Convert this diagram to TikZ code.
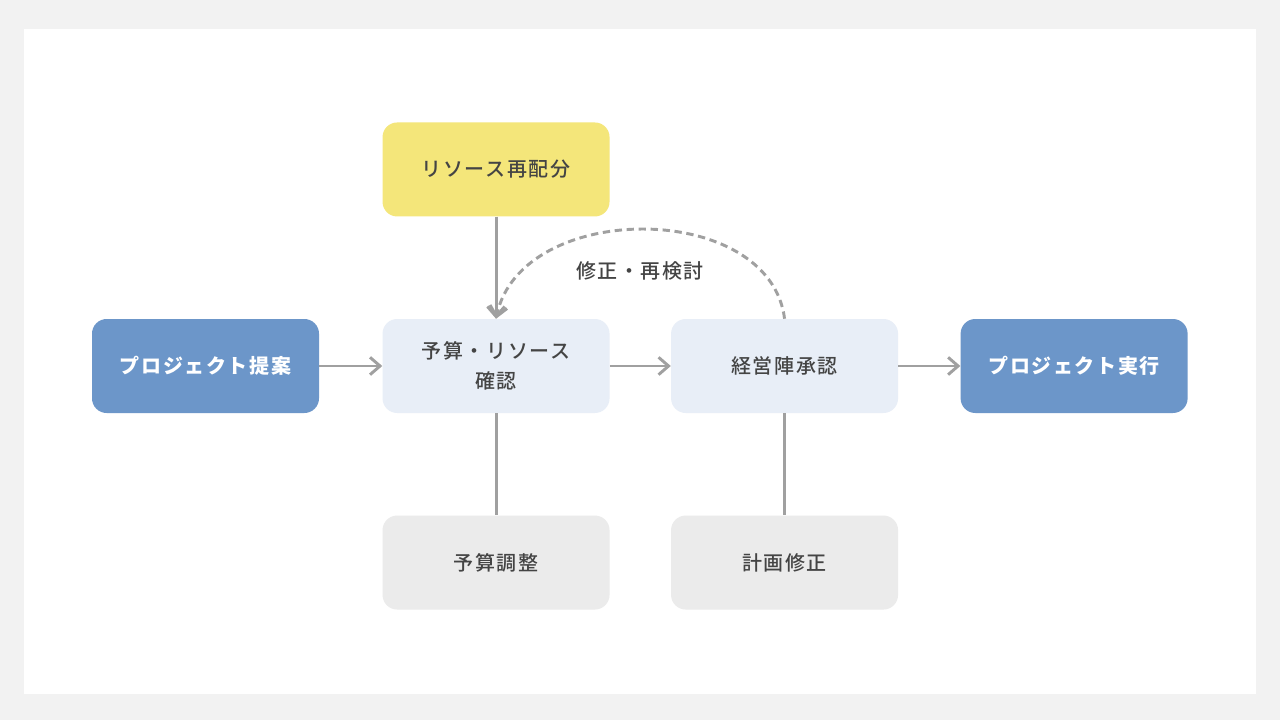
\documentclass[tikz,border=0pt]{standalone}
\usepackage{fontspec}
\setmainfont{Noto Sans CJK JP}[LetterSpace=8]
\newfontfamily\medfont{Noto Sans CJK JP Medium}[LetterSpace=8]
\usetikzlibrary{arrows.meta,positioning}

\definecolor{bggray}{HTML}{F2F2F2}
\definecolor{mainblue}{HTML}{6C96C9}
\definecolor{paleblue}{HTML}{E8EEF7}
\definecolor{paleyellow}{HTML}{F4E67A}
\definecolor{palegray}{HTML}{EBEBEB}
\definecolor{linegray}{HTML}{A0A0A0}
\definecolor{textgray}{HTML}{444444}

\begin{document}
\begin{tikzpicture}[x=0.75pt,y=-0.75pt,
    box/.style={rounded corners=11pt, minimum width=170.25pt, minimum height=70.5pt,
        align=center, inner sep=0pt, font=\medfont\fontsize{15}{22.5}\selectfont, text=textgray},
    endbox/.style={box, fill=mainblue, text=white, font=\bfseries\fontsize{15}{22.5}\selectfont},
    stepbox/.style={box, fill=paleblue},
    extrabox/.style={box, fill=paleyellow},
    fixbox/.style={box, fill=palegray},
    flow/.style={draw=linegray, line width=2.2pt, -{Straight Barb[length=7.5pt,width=13pt,line width=2.2pt]}},
    link/.style={draw=linegray, line width=2.2pt},
    loop/.style={flow, dash pattern=on 5.5pt off 3.5pt},
    note/.style={font=\medfont\fontsize{15}{18}\selectfont, text=textgray}
  ]
  \useasboundingbox (0,0) rectangle (1280,720);
  \fill[bggray] (0,0) rectangle (1280,720);
  \fill[white] (24,29) rectangle (1256,694);

  % main row
  \node[endbox] (proposal) at (205.5,366) {プロジェクト提案};
  \node[stepbox, right=47.25pt of proposal] (check) {予算・リソース\\確認};
  \node[stepbox, right=45.75pt of check] (approve) {経営陣承認};
  \node[endbox, right=46.5pt of approve] (run) {プロジェクト実行};

  % side boxes
  \node[extrabox, above=76.5pt of check] (realloc) {リソース再配分};
  \node[fixbox, below=76.5pt of check] (budget) {予算調整};
  \node[fixbox, below=76.5pt of approve] (replan) {計画修正};

  \draw[flow] (proposal) -- (check);
  \draw[flow] (check) -- (approve);
  \draw[flow] (approve) -- (run);
  \draw[flow] (realloc) -- (check);
  \draw[link] (check) -- (budget);
  \draw[link] (approve) -- (replan);

  % loop back
  \draw[loop] (approve.north) .. controls +(-15,-119) and +(25,-119) .. (check.north);
  \node[note] (retry) at (640,271) {修正・再検討};
\end{tikzpicture}
\end{document}
